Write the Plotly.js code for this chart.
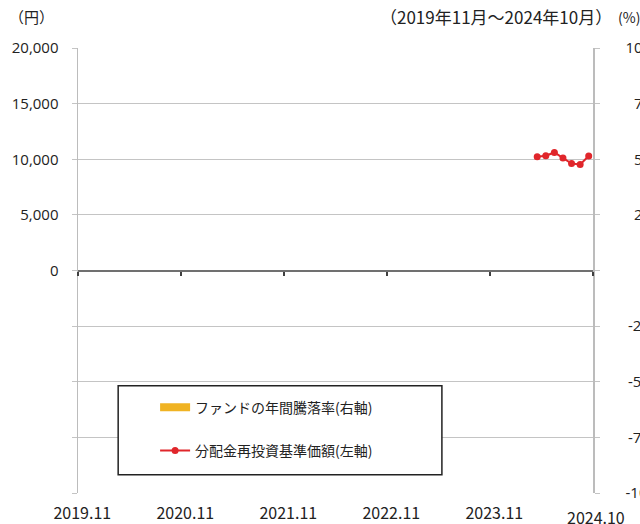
<!DOCTYPE html>
<html>
<head>
<meta charset="utf-8">
<script src="https://cdn.plot.ly/plotly-3.0.1.min.js"></script>
<style>html,body{margin:0;padding:0;background:#fff;}#chart{width:640px;height:524px;}</style>
</head>
<body>
<div id="chart"></div>
<script>
// Categories: monthly points 2019.11 .. 2024.10
const months = [];
for (let y = 2019, m = 11; months.length < 60; ) {
  months.push(y + '.' + String(m).padStart(2, '0'));
  m++; if (m > 12) { m = 1; y++; }
}
// Fund annual change rate (%), right axis: no data in the period shown
const annualRate = months.map(() => null);
// NAV (dividend reinvested), left axis, starts 2024.04
const navMonths = ['2024.04','2024.05','2024.06','2024.07','2024.08','2024.09','2024.10'];
const navValues = [10220, 10310, 10610, 10110, 9620, 9530, 10290];

const xTickVals = ['2019.11','2020.11','2021.11','2022.11','2023.11'];
const xTickText = ['2019.11','2020.11','2021.11','2022.11','2023.11'];
const yTickVals = [-20000,-15000,-10000,-5000,0,5000,10000,15000,20000];
const yTickText = ['','','','','0','5,000','10,000','15,000','20,000'];
const y2TickVals = [-100,-75,-50,-25,0,25,50,75,100];
// figure/thin spaces emulate right-aligned labels of the reference
const y2TickText = ['-100','\u2009-75','\u2009-50','\u2009-25','','\u200725','\u200750','\u200775','100'];
const yearBoundaries = [-0.5, 11.5, 23.5, 35.5, 47.5, 59.5];

const JP = "'Noto Sans CJK JP', 'Noto Sans', sans-serif";
const NUM = "'Open Sans', 'Noto Sans', sans-serif";

const traces = [
  {
    type: 'scatter', mode: 'lines', name: 'ファンドの年間騰落率(右軸)',
    x: months, y: annualRate, xaxis: 'x', yaxis: 'y2',
    line: {color: '#f0b323', width: 8}, legendgroup: 'a', hoverinfo: 'skip'
  },
  {
    type: 'scatter', mode: 'lines+markers', name: '分配金再投資基準価額(左軸)',
    x: navMonths, y: navValues, xaxis: 'x', yaxis: 'y',
    line: {color: '#e0262b', width: 2}, marker: {color: '#e0262b', size: 7},
    legendgroup: 'b'
  },
  {
    type: 'scatter', mode: 'none', x: [-0.5, 59.5], y: [0, 0], xaxis: 'x2', yaxis: 'y',
    showlegend: false, hoverinfo: 'skip'
  }
];

const gridC = '#c4c4c4';
const layout = {
  width: 640, height: 524,
  margin: {l: 78, r: 47, t: 48, b: 31},
  paper_bgcolor: '#fff', plot_bgcolor: '#fff',
  showlegend: true,
  font: {family: JP, size: 14, color: '#222'},
  xaxis: {
    type: 'category', categoryorder: 'array', categoryarray: months,
    range: [-0.5, 59.5], tickvals: xTickVals, ticktext: xTickText,
    ticks: '', showgrid: false, showline: false, zeroline: false,
    tickfont: {family: JP, size: 16, color: '#222'}, ticklabelstandoff: 9,
    fixedrange: true
  },
  xaxis2: {
    overlaying: 'x', anchor: 'free', position: 0.5, type: 'linear',
    range: [-0.5, 59.5], tickvals: yearBoundaries, showticklabels: false,
    ticks: 'outside', ticklen: 4, tickwidth: 1.5, tickcolor: '#404040',
    showline: true, linecolor: '#707070', linewidth: 2,
    showgrid: false, zeroline: false
  },
  yaxis: {
    range: [-20000, 20000], tickvals: yTickVals, ticktext: yTickText,
    showgrid: true, gridcolor: gridC, gridwidth: 1,
    showline: true, linecolor: '#bcbcbc', linewidth: 1.5,
    ticks: 'outside', ticklen: 5, tickcolor: gridC,
    zeroline: false, ticklabelstandoff: 10,
    tickfont: {family: NUM, size: 15, color: '#222'}
  },
  yaxis2: {
    overlaying: 'y', side: 'right', range: [-100, 100],
    tickvals: y2TickVals, ticktext: y2TickText,
    showgrid: false, showline: true, linecolor: '#bcbcbc', linewidth: 1.5,
    ticks: 'outside', ticklen: 5, tickcolor: gridC,
    zeroline: false, ticklabelstandoff: 23,
    tickfont: {family: NUM, size: 15, color: '#222'}
  },
  legend: {
    x: 0.1497, y: 0.2276, xanchor: 'left', yanchor: 'top',
    bgcolor: 'rgba(0,0,0,0)', borderwidth: 0,
    traceorder: 'grouped', tracegroupgap: 22,
    font: {family: JP, size: 14, color: '#222'}
  },
  shapes: [{
    type: 'rect', xref: 'paper', yref: 'paper',
    x0: 0.078, x1: 0.7066, y0: 0.041, y1: 0.241,
    line: {color: '#222', width: 1.5}, fillcolor: '#fff', layer: 'above'
  }],
  annotations: [
    {text: '（円）', xref: 'paper', yref: 'paper', x: -0.137, y: 1.07, xanchor: 'left', yanchor: 'middle', showarrow: false, font: {family: JP, size: 15, color: '#222'}},
    {text: '（2019年11月～2024年10月）', xref: 'paper', yref: 'paper', x: 1.040, y: 1.07, xanchor: 'right', yanchor: 'middle', showarrow: false, font: {family: JP, size: 17, color: '#222'}},
    {text: '(%)', xref: 'paper', yref: 'paper', x: 1.044, y: 1.07, xanchor: 'left', yanchor: 'middle', showarrow: false, font: {family: JP, size: 14, color: '#222'}},
    {text: '2024.10', xref: 'paper', yref: 'paper', x: 1.005, y: -0.053, xanchor: 'center', yanchor: 'middle', showarrow: false, font: {family: JP, size: 16, color: '#222'}}
  ]
};

Plotly.newPlot('chart', traces, layout, {displayModeBar: false, staticPlot: true});
</script>
</body>
</html>
